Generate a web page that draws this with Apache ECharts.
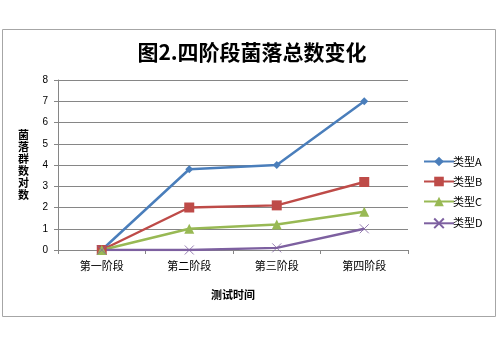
<!DOCTYPE html>
<html><head><meta charset="utf-8">
<script src="https://cdn.jsdelivr.net/npm/echarts@6/dist/echarts.min.js"></script>
<style>html,body{margin:0;padding:0;background:#fff}#c{width:500px;height:355px}</style>
</head><body><div id="c"></div>
<script>
const categories = ['第一阶段','第二阶段','第三阶段','第四阶段'];
const seriesNames = ['类型A','类型B','类型C','类型D'];
const valuesA = [0, 3.8, 4.0, 7.0];
const valuesB = [0, 2.0, 2.1, 3.2];
const valuesC = [0, 1.0, 1.2, 1.8];
const valuesD = [0, 0, 0.1, 1.0];
const yTicks = [0,1,2,3,4,5,6,7,8];

const colors = ['#4A7EBB','#BE4B48','#98B954','#7D60A0'];
const symbols = ['diamond','rect','triangle','path://M0,0L10,10M10,0L0,10'];
const sizes = [8,10,10,9];
const data = [valuesA, valuesB, valuesC, valuesD];
const font = '"Noto Sans CJK SC", sans-serif';

const chart = echarts.init(document.getElementById('c'));
chart.setOption({
  animation: false,
  title: {text: '图2.四阶段菌落总数变化', left: 247, textAlign: 'center', top: 37,
    textStyle: {fontFamily: font, fontSize: 21, fontWeight: 'bold', color: '#000'}},
  graphic: [{type: 'rect', shape: {x: 2.5, y: 29.5, width: 493, height: 287},
    style: {fill: 'none', stroke: '#a6a6a6', lineWidth: 1}, z: -1}],
  legend: {orient: 'vertical', left: 418, top: 151, itemGap: 9, itemWidth: 30, itemHeight: 12,
    data: seriesNames.map((n,i)=>({name:n})),
    textStyle: {fontFamily: font, fontSize: 11, color: '#000', padding: [0,0,0,-6]}},
  grid: {left: 58, top: 80, width: 350, height: 170},
  xAxis: {type: 'category', data: categories, boundaryGap: true,
    name: '测试时间', nameLocation: 'middle', nameGap: 39,
    nameTextStyle: {fontFamily: font, fontSize: 11, fontWeight: 'bold', color: '#000'},
    axisLine: {lineStyle: {color: '#868686'}},
    axisTick: {show: true, length: 4, lineStyle: {color: '#868686'}},
    axisLabel: {fontFamily: font, fontSize: 11, color: '#000', margin: 10}},
  yAxis: {type: 'value', min: 0, max: 8, interval: 1,
    name: '菌\n落\n群\n数\n对\n数', nameLocation: 'middle', nameGap: 29, nameRotate: 0,
    nameTextStyle: {fontFamily: font, fontSize: 11, fontWeight: 'bold', color: '#000', lineHeight: 12},
    axisLine: {show: true, lineStyle: {color: '#868686'}},
    axisTick: {show: true, length: 4, lineStyle: {color: '#868686'}},
    axisLabel: {fontFamily: 'Liberation Sans, Arial, sans-serif', fontSize: 10, color: '#000', margin: 10,
      formatter: v => yTicks.includes(v) ? String(v) : ''},
    splitLine: {lineStyle: {color: '#868686'}}},
  series: seriesNames.map((n,i)=>({
    name: n, type: 'line', data: data[i], symbol: symbols[i], symbolSize: sizes[i],
    showAllSymbol: true,
    lineStyle: {color: colors[i], width: 2.5},
    itemStyle: i===3 ? {color: 'none', borderColor: colors[i], borderWidth: 0.8} : {color: colors[i], borderWidth: 0},
    emphasis: {disabled: true}
  }))
});
</script></body></html>
